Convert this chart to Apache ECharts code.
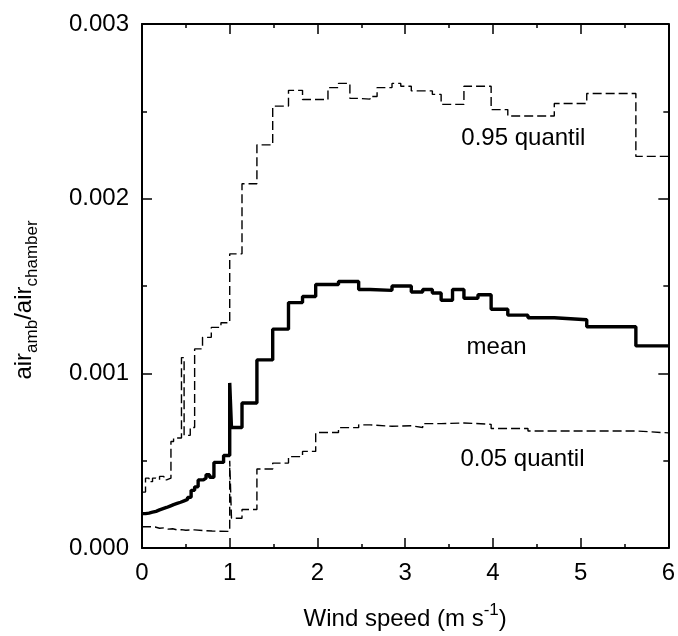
<!DOCTYPE html>
<html>
<head>
<meta charset="utf-8">
<script src="https://cdn.jsdelivr.net/npm/echarts@6/dist/echarts.min.js"></script>
<style>
html,body{margin:0;padding:0;background:#fff;}
#chart{width:678px;height:636px;}
</style>
</head>
<body>
<div id="chart"></div>
<script>
// Wind speed bin starts (m s-1) and values for each series
var meanX = [0.00,0.04,0.08,0.12,0.16,0.20,0.24,0.28,0.32,0.36,0.40,0.44,0.48,0.52,0.56,0.60,0.64,0.70,0.73,0.77,0.82,0.93,
             1.00,1.02,1.14,1.31,1.49,1.67,1.83,1.98,2.24,2.47,2.60,2.85,3.07,3.20,3.31,3.41,3.54,3.67,3.83,3.98,4.17,4.40,4.70,5.07,5.63,6.00];
var meanY = [0.000197,0.000200,0.000205,0.000210,0.000218,0.000225,0.000232,0.000240,0.000248,0.000255,0.000262,0.000270,0.000278,0.000290,0.000330,0.000350,0.000390,0.000400,0.000420,0.000405,0.000490,0.000530,
             0.000945,0.000690,0.000830,0.001077,0.001253,0.001405,0.001440,0.001509,0.001526,0.001480,0.001475,0.001500,0.001466,0.001480,0.001460,0.001418,0.001480,0.001430,0.001450,0.001367,0.001333,0.001318,0.001307,0.001267,0.001157,0.001157];

var q95X = [0.00,0.04,0.08,0.12,0.16,0.20,0.25,0.28,0.33,0.36,0.45,0.48,0.55,0.60,0.69,0.79,0.90,
            1.00,1.14,1.31,1.49,1.67,1.83,2.12,2.24,2.37,2.47,2.60,2.68,2.85,2.95,3.07,3.31,3.41,3.67,3.98,4.17,4.70,5.07,5.63,6.00];
var q95Y = [0.000320,0.000400,0.000380,0.000400,0.000390,0.000410,0.000390,0.000400,0.000610,0.000630,0.001090,0.000645,0.000690,0.001140,0.001206,0.001263,0.001290,
            0.001684,0.002085,0.002308,0.002530,0.002620,0.002568,0.002636,0.002660,0.002574,0.002570,0.002585,0.002636,0.002660,0.002644,0.002617,0.002597,0.002540,0.002644,0.002510,0.002473,0.002545,0.002602,0.002242,0.002242];

var q05X = [0.00,0.10,0.15,0.20,0.25,0.30,0.35,0.40,0.45,0.50,0.60,0.70,0.80,
            1.00,1.02,1.14,1.31,1.49,1.67,1.83,1.98,2.24,2.47,2.60,2.85,3.07,3.20,3.41,3.67,3.98,4.40,5.63,6.00];
var q05Y = [0.000122,0.000120,0.000113,0.000115,0.000108,0.000110,0.000104,0.000105,0.000102,0.000104,0.000100,0.000097,0.000095,
            0.000500,0.000170,0.000220,0.000452,0.000486,0.000523,0.000553,0.000661,0.000689,0.000705,0.000697,0.000700,0.000690,0.000712,0.000716,0.000708,0.000684,0.000670,0.000659,0.000659];

var xTicks = [0,1,2,3,4,5,6];
var yTicks = [0.000,0.001,0.002,0.003];

var labelNames = ['0.95 quantil','mean','0.05 quantil'];
var labelX = [3.64,3.70,3.63];
var labelY = [0.002345,0.001149,0.000507];

function pairs(xs, ys){ return xs.map(function(x,i){ return [x, ys[i]]; }); }

var FONT = 'Liberation Sans, Arial, sans-serif';
var FS = 24;
var SFS = 17;

var chart = echarts.init(document.getElementById('chart'), null, {renderer:'canvas'});

var axisCommonX = {
  type:'value', min:xTicks[0], max:xTicks[xTicks.length-1], interval:1,
  axisLine:{show:true, onZero:false, lineStyle:{color:'#000', width:2}},
  axisTick:{show:true, inside:true, length:10, lineStyle:{color:'#000', width:1.5}},
  minorTick:{show:true, splitNumber:2, length:4, lineStyle:{color:'#000', width:1.5}},
  splitLine:{show:false}
};
var axisCommonY = {
  type:'value', min:yTicks[0], max:yTicks[yTicks.length-1], interval:0.001,
  axisLine:{show:true, onZero:false, lineStyle:{color:'#000', width:2}},
  axisTick:{show:true, inside:true, length:10, lineStyle:{color:'#000', width:1.5}},
  minorTick:{show:true, splitNumber:2, length:5, lineStyle:{color:'#000', width:1.5}},
  splitLine:{show:false}
};

var option = {
  animation:false,
  backgroundColor:'#fff',
  textStyle:{fontFamily:FONT},
  grid:{left:142, right:7, top:24, bottom:85, containLabel:false},
  xAxis:[
    Object.assign({}, axisCommonX, {
      position:'bottom',
      axisLabel:{show:true, margin:13, color:'#000', fontSize:FS, fontFamily:FONT},
      name:'{a|Wind speed (m s}{sup|-1}{a|)}',
      nameLocation:'middle', nameGap:53,
      nameTextStyle:{
        color:'#000', fontFamily:FONT, fontSize:FS,
        rich:{
          a:{fontSize:FS, fontFamily:FONT, color:'#000', verticalAlign:'bottom', lineHeight:30},
          sup:{fontSize:SFS, fontFamily:FONT, color:'#000', verticalAlign:'bottom', lineHeight:30, padding:[0,0,12,0]}
        }
      }
    }),
    Object.assign({}, axisCommonX, {position:'top', axisLabel:{show:false}})
  ],
  yAxis:[
    Object.assign({}, axisCommonY, {
      position:'left',
      axisLabel:{show:true, margin:13, color:'#000', fontSize:FS, fontFamily:FONT,
        formatter:function(v){ return v.toFixed(3); }},
      name:'{a|air}{sub|amb}{a|/air}{sub|chamber}',
      nameLocation:'middle', nameGap:100, nameRotate:90,
      nameTextStyle:{
        color:'#000', fontFamily:FONT, fontSize:FS, padding:[0,28,0,0],
        rich:{
          a:{fontSize:FS, fontFamily:FONT, color:'#000', verticalAlign:'top', lineHeight:30},
          sub:{fontSize:SFS, fontFamily:FONT, color:'#000', verticalAlign:'top', lineHeight:30, padding:[12,0,0,0]}
        }
      }
    }),
    Object.assign({}, axisCommonY, {position:'right', axisLabel:{show:false}})
  ],
  series:[
    {
      name:'0.95 quantil', type:'line', step:'end', xAxisIndex:0, yAxisIndex:0,
      data:pairs(q95X, q95Y), showSymbol:false, symbol:'none',
      lineStyle:{color:'#000', width:1.4, type:[9,4]}
    },
    {
      name:'0.05 quantil', type:'line', step:'end', xAxisIndex:0, yAxisIndex:0,
      data:pairs(q05X, q05Y), showSymbol:false, symbol:'none',
      lineStyle:{color:'#000', width:1.4, type:[9,4]}
    },
    {
      name:'mean', type:'line', step:'end', xAxisIndex:0, yAxisIndex:0,
      data:pairs(meanX, meanY), showSymbol:false, symbol:'none',
      lineStyle:{color:'#000', width:3.4}
    },
    {
      name:'labels', type:'scatter', xAxisIndex:0, yAxisIndex:0,
      symbolSize:0, silent:true,
      itemStyle:{opacity:1, color:'#000'},
      data:labelNames.map(function(n,i){ return {name:n, value:[labelX[i], labelY[i]]}; }),
      label:{show:true, position:[0,0], align:'left', verticalAlign:'middle',
        formatter:function(p){ return p.name; },
        color:'#000', opacity:1, fontSize:FS, fontFamily:FONT, textBorderWidth:0}
    }
  ]
};
chart.setOption(option);
</script>
</body>
</html>
